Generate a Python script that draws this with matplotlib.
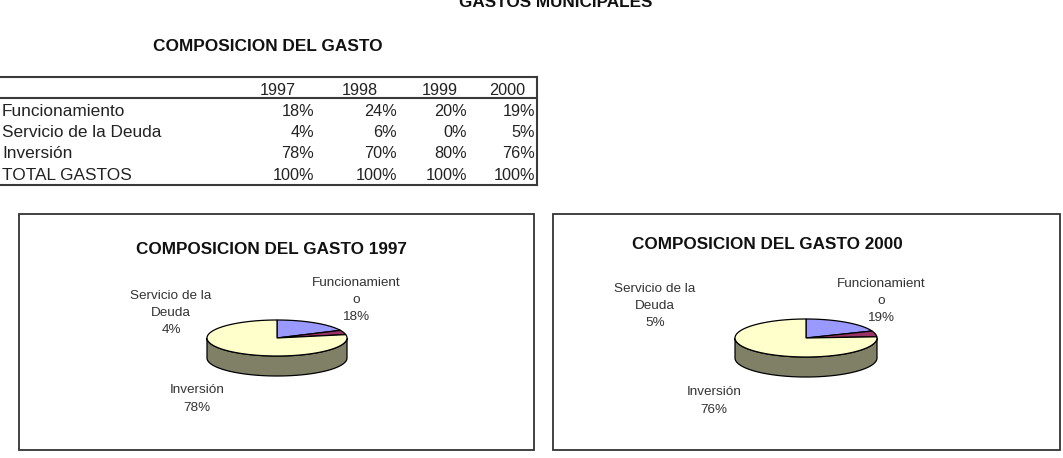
import numpy as np
import matplotlib
matplotlib.use("Agg")
import matplotlib.pyplot as plt
from matplotlib.patches import Polygon, Rectangle

plt.rcParams['font.family'] = ['Liberation Sans', 'DejaVu Sans']

# ---- data ----
YEARS = ["1997", "1998", "1999", "2000"]
ROW_NAMES = ["Funcionamiento", "Servicio de la Deuda", "Inversión", "TOTAL GASTOS"]
FUNCIONAMIENTO = [18, 24, 20, 19]
SERVICIO_DEUDA = [4, 6, 0, 5]
INVERSION = [78, 70, 80, 76]
TOTAL = [100, 100, 100, 100]
PIE_LABELS = ["Funcionamient\no", "Servicio de la\nDeuda", "Inversión"]
PIE_YEARS = ["1997", "2000"]

FACE_COLORS = ["#9999FF", "#993366", "#FFFFCC"]

W, H = 1063, 458
fig = plt.figure(figsize=(W / 100, H / 100), dpi=100)
ax = fig.add_axes([0, 0, 1, 1])
ax.set_xlim(0, W)
ax.set_ylim(H, 0)  # pixel coords, y down
ax.axis('off')

# ---- headings ----
ax.text(556, 7, "GASTOS MUNICIPALES", ha='center', va='baseline',
        fontsize=12.3, fontweight='bold', color='#111111')
ax.text(153, 51, "COMPOSICION DEL GASTO", ha='left', va='baseline',
        fontsize=12.4, fontweight='bold', color='#111111')

# ---- table ----
col_right = [314, 397, 467, 535]
col_head = [278, 360, 440, 507]
row_base = [116, 137, 158, 180]
line_c = '#3a3a3a'
ax.plot([0, 537], [77, 77], color=line_c, lw=1.5)
ax.plot([0, 537], [98, 98], color=line_c, lw=1.5)
ax.plot([0, 537], [185, 185], color=line_c, lw=1.5)
ax.plot([537, 537], [77, 185], color=line_c, lw=1.5)

for x, yr in zip(col_head, YEARS):
    ax.text(x, 95, yr, ha='center', va='baseline', fontsize=11.7, color='#222222')

rows = [FUNCIONAMIENTO, SERVICIO_DEUDA, INVERSION, TOTAL]
for name, vals, yb in zip(ROW_NAMES, rows, row_base):
    ax.text(2, yb, name, ha='left', va='baseline', fontsize=12.4, color='#222222')
    for x, v in zip(col_right, vals):
        ax.text(x, yb, f"{v}%", ha='right', va='baseline', fontsize=11.7, color='#222222')


def darker(hexc, f=0.5):
    c = np.array(matplotlib.colors.to_rgb(hexc))
    return tuple(c * f)


def pie3d(cx, cy, rx, ry, depth, values):
    fracs = np.array(values, dtype=float) / sum(values)
    starts = 90 - 360 * np.concatenate([[0], np.cumsum(fracs)[:-1]])
    ends = starts - 360 * fracs
    # sides first (front half only)
    for a0, a1, col in zip(starts, ends, FACE_COLORS):
        t = np.radians(np.linspace(a0, a1, 200))
        m = np.sin(t) <= 0
        if m.sum() < 2:
            continue
        tt = t[m]
        xs = cx + rx * np.cos(tt)
        ys = cy - ry * np.sin(tt)
        pts = np.column_stack([np.r_[xs, xs[::-1]], np.r_[ys, ys[::-1] + depth]])
        ax.add_patch(Polygon(pts, closed=True, fc=darker(col), ec='black', lw=0.9))
    # top faces
    for a0, a1, col in zip(starts, ends, FACE_COLORS):
        t = np.radians(np.linspace(a0, a1, 200))
        xs = cx + rx * np.cos(t)
        ys = cy - ry * np.sin(t)
        pts = np.column_stack([np.r_[cx, xs], np.r_[cy, ys]])
        ax.add_patch(Polygon(pts, closed=True, fc=col, ec='black', lw=0.9))


charts = [
    dict(box=(19, 214, 534, 450), title_xy=(271, 254), pie=(277, 338, 70, 18, 20),
         lab=[(356, 300), (171, 313), (197, 399)], idx=0),
    dict(box=(553, 214, 1060, 450), title_xy=(767, 249), pie=(806, 338, 71, 19, 20),
         lab=[(881, 301), (655, 306), (714, 401)], idx=3),
]

for ch, yr in zip(charts, PIE_YEARS):
    x0, y0, x1, y1 = ch['box']
    ax.add_patch(Rectangle((x0, y0), x1 - x0, y1 - y0, fill=False, ec='#333333', lw=1.3))
    ax.text(*ch['title_xy'], f"COMPOSICION DEL GASTO {yr}", ha='center', va='baseline',
            fontsize=12.3, fontweight='bold', color='#111111')
    i = ch['idx']
    vals = [FUNCIONAMIENTO[i], SERVICIO_DEUDA[i], INVERSION[i]]
    pie3d(*ch['pie'], vals)
    for (lx, ly), lab, v in zip(ch['lab'], PIE_LABELS, vals):
        ax.text(lx, ly, f"{lab}\n{v}%", ha='center', va='center', multialignment='center',
                fontsize=9.7, color='#333333', linespacing=1.6)

fig.savefig("out.png", dpi=100)
